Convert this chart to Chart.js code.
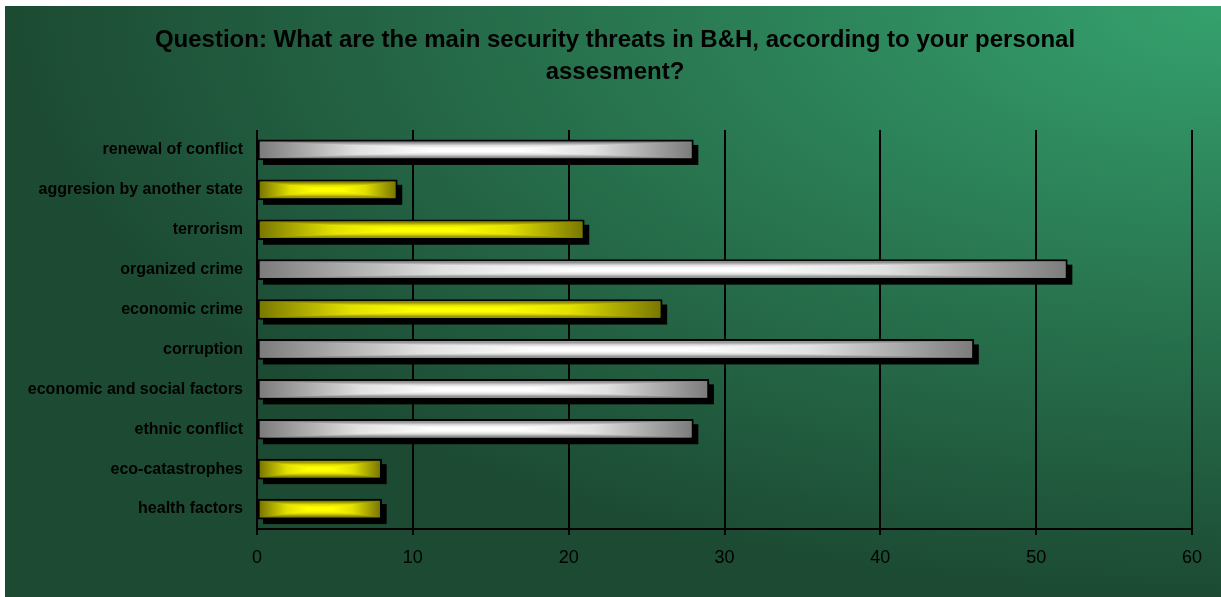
<!DOCTYPE html>
<html>
<head>
<meta charset="utf-8">
<script src="https://cdn.jsdelivr.net/npm/chart.js@4"></script>
<style>
	html, body { margin: 0; padding: 0; background: #fff; }
	#wrap { position: absolute; left: 5px; top: 6px; width: 1216px; height: 591px; }
</style>
</head>
<body>
<div id="wrap"><canvas id="threatsChart"></canvas></div>
<script>
const threats = [
	"renewal of conflict",
	"aggresion by another state",
	"terrorism",
	"organized crime",
	"economic crime",
	"corruption",
	"economic and social factors",
	"ethnic conflict",
	"eco-catastrophes",
	"health factors",
];
const answers = [28, 9, 21, 52, 26, 46, 29, 28, 8, 8];
const barTone = ["silver", "gold", "gold", "silver", "gold", "silver", "silver", "silver", "gold", "gold"];
const xTicks = [0, 10, 20, 30, 40, 50, 60];

const tones = {
	silver: { edge: "#7c7c7c", half: "#e0e0e0", mid: "#ffffff" },
	gold: { edge: "#7a7800", half: "#e2e000", mid: "#ffff00" },
};

// dark green backdrop, brightest in the top right corner
const backdrop = {
	id: "backdrop",
	beforeDraw(chart) {
		const { ctx, width, height } = chart;
		ctx.save();
		ctx.translate(width, 0);
		ctx.scale(1, height / width);
		const g = ctx.createRadialGradient(0, 0, 0, 0, 0, width);
		g.addColorStop(0, "#35a16d");
		g.addColorStop(1, "#1c4a33");
		ctx.fillStyle = g;
		ctx.fillRect(-width - 10, -10, width + 20, width + 20);
		ctx.restore();
	},
};

// hard black drop shadow behind every bar
const barShadow = {
	id: "barShadow",
	beforeDatasetsDraw(chart) {
		const ctx = chart.ctx;
		ctx.save();
		ctx.fillStyle = "#000";
		chart.getDatasetMeta(0).data.forEach((bar) => {
			const { x, y, base, height } = bar.getProps(["x", "y", "base", "height"], true);
			ctx.fillRect(Math.min(base, x) + 5, y - height / 2 + 5, Math.abs(x - base), height);
		});
		ctx.restore();
	},
};

function sheenStops(g, tone, reversed) {
	const stops = [
		[0, tone.edge],
		[0.45, tone.half],
		[0.8, tone.mid],
		[1, tone.mid],
	];
	stops.forEach(([t, c]) => g.addColorStop(reversed ? 1 - t : t, c));
}

// rectangular "from centre" gradient inside each bar's border
const barSheen = {
	id: "barSheen",
	afterDatasetsDraw(chart) {
		const ctx = chart.ctx;
		const bw = 2;
		ctx.save();
		chart.getDatasetMeta(0).data.forEach((bar, i) => {
			const { x, y, base, height } = bar.getProps(["x", "y", "base", "height"], true);
			const tone = tones[barTone[i]];
			const L = Math.min(base, x) + bw;
			const R = Math.max(base, x) - bw;
			const T = y - height / 2 + bw;
			const B = y + height / 2 - bw;
			if (R <= L || B <= T) return;
			const cx = (L + R) / 2;
			const cy = (T + B) / 2;

			// left and right halves
			const hl = ctx.createLinearGradient(L, 0, cx, 0);
			sheenStops(hl, tone, false);
			ctx.fillStyle = hl;
			ctx.fillRect(L, T, cx - L, B - T);
			const hr = ctx.createLinearGradient(cx, 0, R, 0);
			sheenStops(hr, tone, true);
			ctx.fillStyle = hr;
			ctx.fillRect(cx, T, R - cx, B - T);

			// top and bottom wedges
			const top = ctx.createLinearGradient(0, T, 0, cy);
			sheenStops(top, tone, false);
			ctx.fillStyle = top;
			ctx.beginPath();
			ctx.moveTo(L, T);
			ctx.lineTo(R, T);
			ctx.lineTo(cx, cy);
			ctx.closePath();
			ctx.fill();

			const bottom = ctx.createLinearGradient(0, B, 0, cy);
			sheenStops(bottom, tone, false);
			ctx.fillStyle = bottom;
			ctx.beginPath();
			ctx.moveTo(L, B);
			ctx.lineTo(R, B);
			ctx.lineTo(cx, cy);
			ctx.closePath();
			ctx.fill();
		});
		ctx.restore();
	},
};

const ctx = document.getElementById("threatsChart").getContext("2d");
new Chart(ctx, {
	type: "bar",
	data: {
		labels: threats,
		datasets: [
			{
				data: answers,
				backgroundColor: barTone.map((t) => tones[t].edge),
				borderColor: "#000",
				borderWidth: 2,
				borderSkipped: false,
				barThickness: 20,
				yAxisID: "y",
			},
		],
	},
	options: {
		indexAxis: "y",
		responsive: true,
		maintainAspectRatio: false,
		animation: false,
		layout: {
			padding: { left: 22, right: 18, top: 0, bottom: 0 },
		},
		scales: {
			x: {
				min: 0,
				max: 60,
				afterBuildTicks(scale) {
					scale.ticks = xTicks.map((v) => ({ value: v }));
				},
				afterFit(scale) {
					scale.height = 68;
				},
				grid: {
					color: "#000",
					lineWidth: 2,
					tickLength: 6,
					tickColor: "#000",
				},
				border: { display: true, color: "#000", width: 2 },
				ticks: {
					color: "#000",
					padding: 12,
					font: { family: "'Liberation Sans', Arial, sans-serif", size: 18 },
				},
			},
			y: {
				afterFit(scale) {
					scale.width = 230;
				},
				grid: { display: false, drawTicks: false },
				border: { display: false },
				ticks: {
					color: "#000",
					padding: 14,
					font: { family: "'Liberation Sans', Arial, sans-serif", size: 16, weight: "bold" },
				},
			},
			// empty strip on the right so the "60" label has room
			yRight: {
				type: "category",
				position: "right",
				afterFit(scale) {
					scale.width = 11;
				},
				grid: { display: false, drawTicks: false },
				border: { display: false },
				ticks: { display: false },
			},
		},
		plugins: {
			legend: { display: false },
			tooltip: { enabled: false },
			title: {
				display: true,
				text: [
					"Question: What are the main security threats in B&H, according to your personal",
					"assesment?",
				],
				color: "#000",
				padding: { top: 18, bottom: 42 },
				font: {
					family: "'Liberation Sans', Arial, sans-serif",
					size: 24,
					weight: "bold",
					lineHeight: 1.333,
				},
			},
		},
	},
	plugins: [backdrop, barShadow, barSheen],
});
</script>
</body>
</html>
